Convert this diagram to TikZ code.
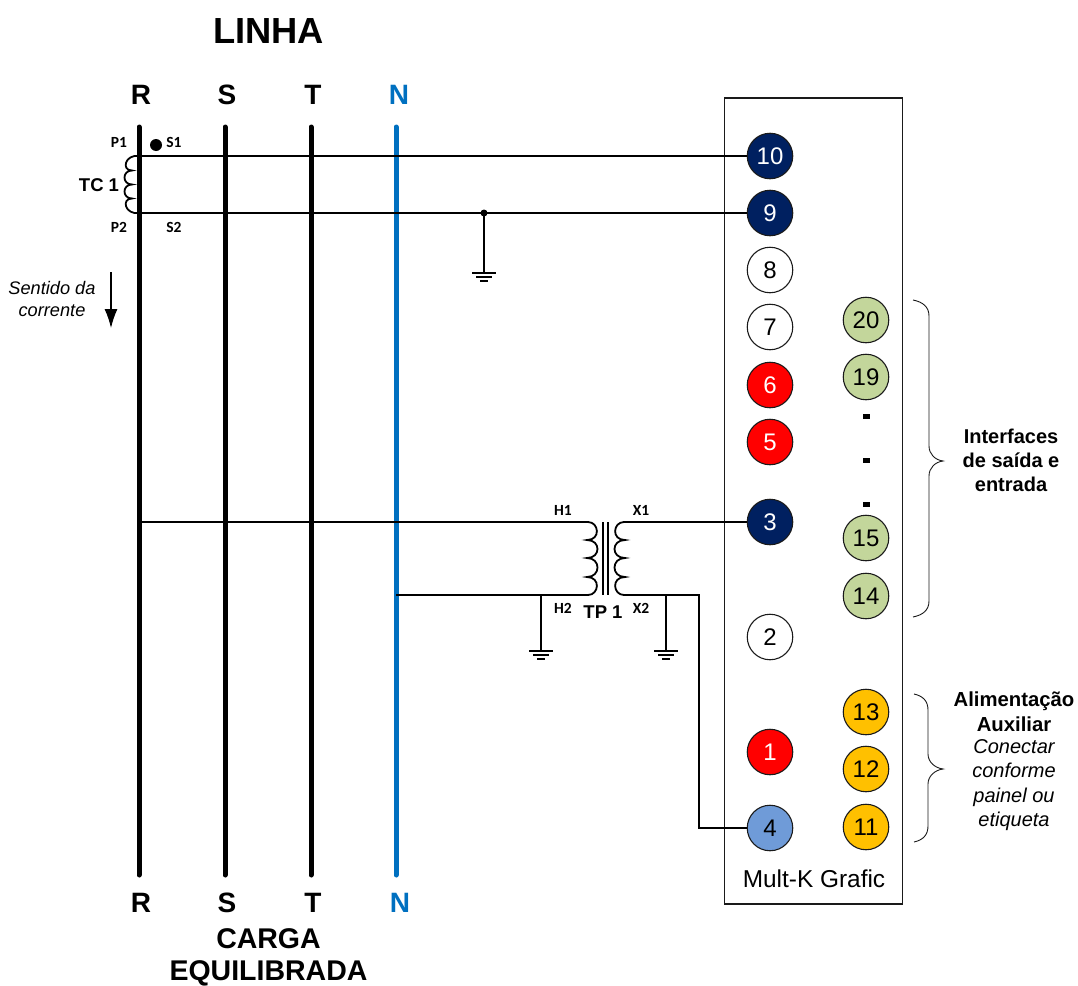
\documentclass[tikz,border=0pt]{standalone}
\usepackage{fontspec}
\setmainfont{Liberation Sans}
\newfontfamily\calfont{Carlito}
\usetikzlibrary{arrows.meta}
\definecolor{navy}{HTML}{002060}
\definecolor{busblue}{HTML}{0070C0}
\definecolor{olivegreen}{HTML}{C3D69B}
\definecolor{amber}{HTML}{FFC000}
\definecolor{softblue}{HTML}{6F9BD8}
\definecolor{ringc}{HTML}{1A1A1A}
\tikzset{
  x=1pt,y=-1pt,
  terminal/.style={circle,draw=ringc,line width=1.1pt,minimum size=45.5pt,inner sep=0pt,font=\fontsize{24}{24}\selectfont},
  tnavy/.style={terminal,fill=navy,text=white},
  twhite/.style={terminal,fill=white},
  tred/.style={terminal,fill=red,text=white},
  tgreen/.style={terminal,fill=olivegreen},
  tamber/.style={terminal,fill=amber},
  tblue/.style={terminal,fill=softblue},
  bus/.style={line width=5pt,line cap=round},
  wire/.style={line width=1.1pt},
  heavy/.style={line width=1.8pt},
  bracec/.style={line width=.9pt,draw=ringc},
  phase/.style={inner sep=0pt,font=\bfseries\fontsize{28}{28}\selectfont},
  phasewide/.style={inner sep=0pt,font=\bfseries\fontsize{28.5}{28.5}\selectfont},
  title/.style={inner sep=0pt,font=\bfseries\fontsize{36.3}{36.3}\selectfont},
  small/.style={inner sep=0pt,font=\calfont\bfseries\fontsize{15.5}{15.5}\selectfont},
  mid/.style={inner sep=0pt,font=\bfseries\fontsize{18.5}{18.5}\selectfont},
  note/.style={inner sep=0pt,align=center},
  dotmark/.style={fill=black,minimum width=7pt,minimum height=5pt,inner sep=0pt},
  pointer/.style={line width=1.2pt,-{Latex[length=19pt,width=13pt]}},
}
\begin{document}
\begin{tikzpicture}
\useasboundingbox (0,0) rectangle (1078,985);
% device box
\node[draw=ringc,line width=1.2pt,minimum width=177.5pt,minimum height=806pt,inner sep=0pt] (box) at (813.5,501) {};
% titles
\node[title] (linha) at (268.5,31) {LINHA};
\node[phase] (rt) at (141,95) {R};
\node[phase] (st) at (227,95) {S};
\node[phase] (tt) at (313,95) {T};
\node[phase,text=busblue] (nt) at (399,95) {N};
\node[phase] (rb) at (141,903) {R};
\node[phase] (sb) at (227,903) {S};
\node[phase] (tb) at (313,903) {T};
\node[phase,text=busblue] (nb) at (400,903) {N};
\node[phasewide] (carga) at (268.5,939) {CARGA};
\node[phasewide] (equi) at (268.5,973) {EQUILIBRADA};
% bus ends
\coordinate (r1) at (139,127); \coordinate (r2) at (139,875);
\coordinate (s1) at (225,127); \coordinate (s2) at (225,875);
\coordinate (t1) at (311,127); \coordinate (t2) at (311,875);
\coordinate (n1) at (396,127); \coordinate (n2) at (396,875);
\draw[bus] (r1) -- (r2);
\draw[bus] (s1) -- (s2);
\draw[bus] (t1) -- (t2);
\draw[bus,draw=busblue] (n1) -- (n2);
% terminals
\node[tnavy] (n10) at (770,156) {10};
\node[tnavy] (n9) at (770,213) {9};
\node[twhite] (n8) at (770,270) {8};
\node[twhite] (n7) at (770,327) {7};
\node[tred] (n6) at (770,385) {6};
\node[tred] (n5) at (770,442) {5};
\node[tnavy] (n3) at (770,522) {3};
\node[twhite] (n2t) at (770,637) {2};
\node[tred] (n1t) at (770,752) {1};
\node[tblue] (n4) at (770,828) {4};
\node[tgreen] (n20) at (866,320) {20};
\node[tgreen] (n19) at (866,377) {19};
\node[tgreen] (n15) at (866,538) {15};
\node[tgreen] (n14) at (866,596) {14};
\node[tamber] (n13) at (866,712) {13};
\node[tamber] (n12) at (866,769) {12};
\node[tamber] (n11) at (866,827) {11};
\node[dotmark] (d1) at (866,416) {};
\node[dotmark] (d2) at (866,460) {};
\node[dotmark] (d3) at (866,504) {};
% junction points
\coordinate (tc1) at (139,156); \coordinate (tc2) at (139,213);
\coordinate (tc1e) at (153,156); \coordinate (tc2e) at (153,213);
\coordinate (gj) at (484,213); \coordinate (g0) at (484,273);
\coordinate (h1w) at (139,522); \coordinate (h2w) at (396,595);
\coordinate (h1) at (569,522); \coordinate (h2) at (569,595);
\coordinate (x1) at (642,522); \coordinate (x2) at (642,595);
\coordinate (g1j) at (541,595); \coordinate (g1) at (541,651);
\coordinate (g2j) at (666,595); \coordinate (g2) at (666,651);
\coordinate (xa) at (699,595); \coordinate (xb) at (699,828);
% wires
\draw[wire] (tc1) -- (n10);
\draw[wire] (tc2) -- (n9);
\draw[heavy] (tc1) -- (tc1e);
\draw[heavy] (tc2) -- (tc2e);
\draw[wire,line width=1.2pt] (gj) -- (g0);
\fill (gj) circle (3.5pt);
\draw[wire] (h1w) -- (h1);
\draw[wire] (h2w) -- (h2);
\draw[wire] (x1) -- (n3);
\draw[wire] (x2) -- (xa) -- (xb) -- (n4);
\draw[wire,line width=1.2pt] (g1j) -- (g1);
\draw[wire,line width=1.2pt] (g2j) -- (g2);
% grounds
\foreach \g/\gx/\gy in {a/484/273,b/541/651,c/666/651}{
  \draw[heavy] (\gx-12,\gy) -- (\gx+12,\gy);
  \draw[heavy] (\gx-8,\gy+4) -- (\gx+8,\gy+4);
  \draw[heavy] (\gx-4,\gy+8) -- (\gx+4,\gy+8);
}
% TC coil
\fill (156,145) circle (6pt);
\draw[heavy] (tc1) .. controls (125,154) and (121,170.5) .. (132,170.5)
  .. controls (122,170.5) and (122,184.5) .. (132,184.5)
  .. controls (122,184.5) and (122,198.5) .. (132,198.5)
  .. controls (121,198.5) and (125,215) .. (tc2);
% TP windings
\draw[heavy] (h1) -- (588,522) .. controls (599,522) and (601,540) .. (587,540)
  .. controls (601,540) and (601,558) .. (587,558)
  .. controls (601,558) and (601,577) .. (587,577)
  .. controls (601,577) and (599,595) .. (588,595) -- (h2);
\draw[heavy] (x1) -- (624,522) .. controls (613,522) and (611,540) .. (625,540)
  .. controls (611,540) and (611,558) .. (625,558)
  .. controls (611,558) and (611,577) .. (625,577)
  .. controls (611,577) and (613,595) .. (624,595) -- (x2);
\draw[heavy] (603,522) -- (603,595);
\draw[heavy] (608,522) -- (608,595);
% labels
\node[small] (p1) at (119,142) {P1};
\node[small] (s1l) at (174,142) {S1};
\node[small] (p2) at (119,227) {P2};
\node[small] (s2l) at (174,227) {S2};
\node[mid] (tc) at (99,185) {TC 1};
\node[small] (h1l) at (563,510) {H1};
\node[small] (x1l) at (641,510) {X1};
\node[small] (h2l) at (563,608) {H2};
\node[small] (x2l) at (641,608) {X2};
\node[mid] (tp) at (603,612) {TP 1};
\node[inner sep=0pt,font=\fontsize{24.4}{24.4}\selectfont] (mk) at (814,879) {Mult-K Grafic};
% current direction
\node[note,font=\itshape\fontsize{18.2}{22}\selectfont] (sent) at (52,299) {Sentido da\\corrente};
\coordinate (a1) at (111,272); \coordinate (a2) at (111,328);
\draw[pointer] (a1) -- (a2);
% braces
\draw[bracec] (913,300) .. controls (923,302) and (929,307) .. (929,316) -- (929,446)
  .. controls (929,454) and (935,460) .. (943,461)
  .. controls (935,462) and (929,468) .. (929,476) -- (929,601)
  .. controls (929,610) and (923,615) .. (913,617);
\draw[bracec] (914,694) .. controls (923,696) and (928,701) .. (928,710) -- (928,754)
  .. controls (928,762) and (935,768) .. (943,769)
  .. controls (935,770) and (928,776) .. (928,784) -- (928,826)
  .. controls (928,835) and (923,840) .. (914,842);
\node[note,font=\bfseries\fontsize{20}{24}\selectfont] (iface) at (1011,460) {Interfaces\\de saída e\\entrada};
\node[note,font=\bfseries\fontsize{20.3}{24.5}\selectfont] (alim) at (1014,711.5) {Alimentação\\Auxiliar};
\node[note,font=\itshape\fontsize{20}{24.4}\selectfont] (conec) at (1014,785) {Conectar\\conforme\\painel ou\\etiqueta};
\end{tikzpicture}
\end{document}
